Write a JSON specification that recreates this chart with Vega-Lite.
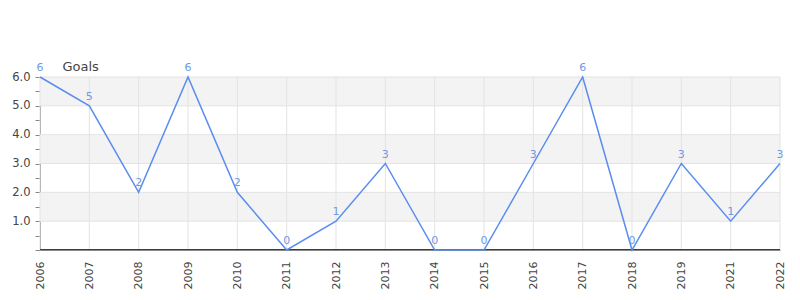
{
  "$schema": "https://vega.github.io/schema/vega-lite/v6.json",
  "autosize": "none",
  "width": 740,
  "height": 173,
  "padding": {"left": 40, "top": 77, "right": 20, "bottom": 50},
  "config": {
    "view": {"stroke": null},
    "font": "DejaVu Sans",
    "axis": {"labelFont": "DejaVu Sans", "titleFont": "DejaVu Sans"}
  },
  "resolve": {"axis": {"y": "independent"}},
  "datasets": {
    "goals": [
      {"year": "2006", "goals": 6},
      {"year": "2007", "goals": 5},
      {"year": "2008", "goals": 2},
      {"year": "2009", "goals": 6},
      {"year": "2010", "goals": 2},
      {"year": "2011", "goals": 0},
      {"year": "2012", "goals": 1},
      {"year": "2013", "goals": 3},
      {"year": "2014", "goals": 0},
      {"year": "2015", "goals": 0},
      {"year": "2016", "goals": 3},
      {"year": "2017", "goals": 6},
      {"year": "2018", "goals": 0},
      {"year": "2019", "goals": 3},
      {"year": "2021", "goals": 1},
      {"year": "2022", "goals": 3}
    ],
    "bands": [
      {"from": 1, "to": 2},
      {"from": 3, "to": 4},
      {"from": 5, "to": 6}
    ]
  },
  "layer": [
    {
      "data": {"name": "bands"},
      "mark": {"type": "rect", "color": "#f3f3f3"},
      "encoding": {
        "y": {"field": "from", "type": "quantitative", "scale": {"domain": [0, 6], "nice": false}, "axis": null},
        "y2": {"field": "to"}
      }
    },
    {
      "data": {"name": "bands"},
      "mark": {"type": "rule", "color": "#e3e3e3", "strokeWidth": 1},
      "encoding": {"y": {"field": "from", "type": "quantitative", "axis": null}}
    },
    {
      "data": {"name": "bands"},
      "mark": {"type": "rule", "color": "#e3e3e3", "strokeWidth": 1},
      "encoding": {"y": {"field": "to", "type": "quantitative", "axis": null}}
    },
    {
      "data": {"name": "goals"},
      "mark": {"type": "rule", "color": "#e3e3e3", "strokeWidth": 1},
      "encoding": {
        "x": {"field": "year", "type": "ordinal", "scale": {"type": "point", "padding": 0}}
      }
    },
    {
      "data": {"name": "goals"},
      "mark": {"type": "rule", "color": "#d00000", "strokeWidth": 1, "yOffset": -0.5},
      "encoding": {"y": {"datum": 0, "type": "quantitative", "axis": null}, "x": {"value": 0}, "x2": {"value": 740}}
    },
    {
      "data": {"name": "goals"},
      "encoding": {
        "x": {
          "field": "year",
          "type": "ordinal",
          "scale": {"type": "point", "padding": 0},
          "axis": {
            "title": null,
            "labelAngle": -90,
            "labelAlign": "right",
            "labelBaseline": "middle",
            "labelPadding": 11,
            "labelFontSize": 11,
            "labelColor": "#444",
            "labelOverlap": false,
            "ticks": false,
            "domainColor": "#888",
            "domainWidth": 1,
            "grid": false
          }
        },
        "y": {
          "field": "goals",
          "type": "quantitative",
          "axis": {
            "title": "Goals",
            "titleAngle": 0,
            "titleAlign": "left",
            "titleBaseline": "bottom",
            "titleX": 22,
            "titleY": -4,
            "titleFontSize": 13,
            "titleFontWeight": "normal",
            "titleColor": "#444",
            "values": [0, 0.5, 1, 1.5, 2, 2.5, 3, 3.5, 4, 4.5, 5, 5.5, 6],
            "labelExpr": "datum.value % 1 == 0 && datum.value > 0 ? format(datum.value, '.1f') : ''",
            "labelOverlap": false,
            "labelFontSize": 11.5,
            "labelColor": "#444",
            "labelPadding": 5,
            "tickColor": "#888",
            "tickSize": 5,
            "domainColor": "#888",
            "grid": false
          }
        }
      },
      "layer": [
        {
          "mark": {"type": "line", "color": "#5b8def", "strokeWidth": 1.5}
        },
        {
          "mark": {"type": "text", "dy": -9, "color": "#6f9ae8", "fontSize": 11},
          "encoding": {"text": {"field": "goals", "type": "quantitative"}}
        }
      ]
    }
  ]
}
